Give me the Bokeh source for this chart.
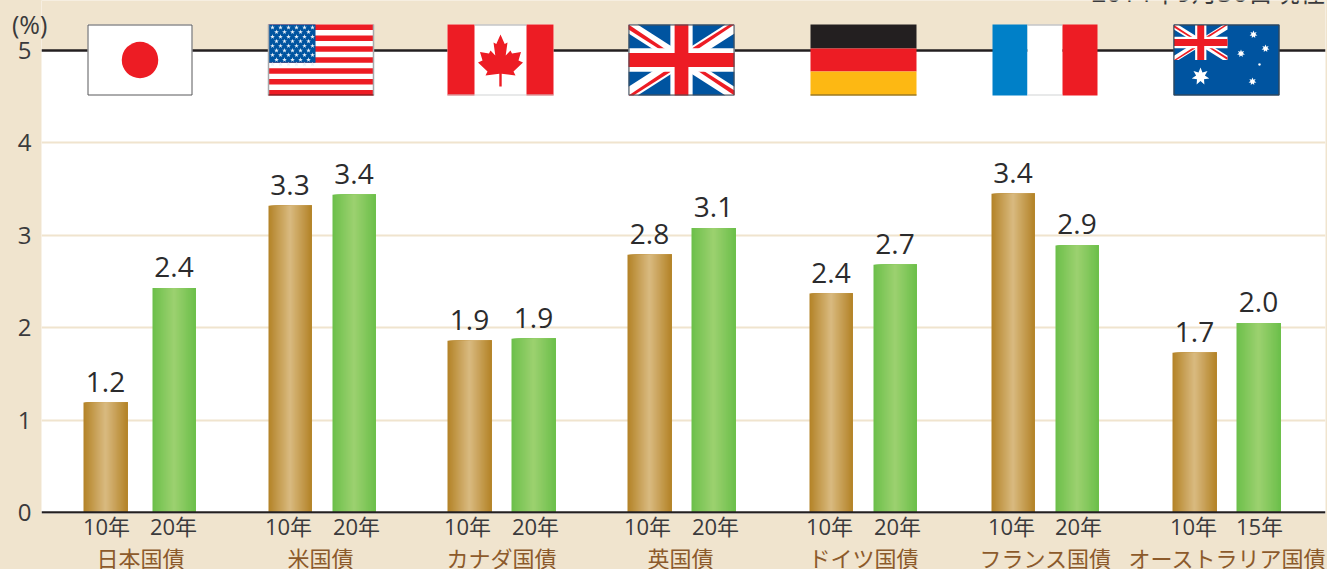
import math
from bokeh.plotting import figure
from bokeh.layouts import column
from bokeh.models import Range1d, FixedTicker, LinearAxis, Div
from bokeh.core.properties import value
from bokeh.embed import file_html
from bokeh.resources import INLINE

# ---- data -------------------------------------------------------------
countries = ["日本国債", "米国債", "カナダ国債", "英国債", "ドイツ国債", "フランス国債", "オーストラリア国債"]
maturities = ["10年", "20年", "10年", "20年", "10年", "20年", "10年", "20年", "10年", "20年", "10年", "20年", "10年", "15年"]
yields = [1.19, 2.43, 3.32, 3.44, 1.86, 1.88, 2.79, 3.08, 2.37, 2.68, 3.45, 2.89, 1.73, 2.05]
value_labels = ["1.2", "2.4", "3.3", "3.4", "1.9", "1.9", "2.8", "3.1", "2.4", "2.7", "3.4", "2.9", "1.7", "2.0"]
y_ticks = [0, 1, 2, 3, 4, 5]
note = "2014年9月30日現在"
unit = "(%)"

# ---- layout (pixels in the picture) ------------------------------------
W, H = 1327, 569
F_L, F_R, ZERO_PX, FIVE_PX = 41, 1325, 512, 50
PER = (ZERO_PX - FIVE_PX) / 5
bar_left = [83, 152, 268, 332, 447, 511, 627, 691, 809, 873, 991, 1055, 1172, 1236]
bar_w = [44, 43, 43, 43, 44, 44, 44, 44, 43, 43, 43, 43, 44, 44]
tick_x = [106, 173, 288, 356, 467, 535, 647, 715, 829, 897, 1011, 1078, 1193, 1259]
group_x = [140, 320, 501, 680, 863, 1045, 1227]
flag_x = [(87, 192), (268, 373), (447, 553), (628, 734), (810, 916), (992, 1097), (1173, 1279)]
FLAG_T, FLAG_B = 24, 95
LABEL_GAP = 21

BEIGE = "#f0e4ce"
INK = "#3a3a3c"
BROWN = "#8c5a2b"
RED = "#ed1c24"
BLUE = "#0054a0"
FONT = "Open Sans, Noto Sans CJK JP"
CJK = "Noto Sans CJK JP"


def fy(px):
    return (ZERO_PX - px) / PER


p = figure(frame_width=F_R - F_L, frame_height=513, output_backend="svg", toolbar_location=None,
           x_range=Range1d(F_L, F_R), y_range=Range1d(fy(513), fy(0)),
           min_border_left=F_L, min_border_right=W - F_R, min_border_top=0, min_border_bottom=H - 513,
           background_fill_color="white", border_fill_color=BEIGE, outline_line_color=None)
p.xaxis.visible = False
p.xgrid.visible = False

# beige band above 5
p.quad(left=F_L, right=F_R, bottom=5, top=fy(0), fill_color=BEIGE, line_color=None)

# y axis
p.yaxis.ticker = FixedTicker(ticks=y_ticks)
p.yaxis.axis_line_color = None
p.yaxis.major_tick_line_color = None
p.yaxis.minor_tick_line_color = None
p.yaxis.major_tick_in = 0
p.yaxis.major_tick_out = 0
p.yaxis.minor_tick_in = 0
p.yaxis.minor_tick_out = 0
p.yaxis.major_label_text_font = FONT
p.yaxis.major_label_text_font_size = "24px"
p.yaxis.major_label_text_color = INK
p.yaxis.major_label_standoff = 10
p.ygrid.ticker = FixedTicker(ticks=y_ticks[1:-1])
p.ygrid.grid_line_color = BEIGE
p.ygrid.grid_line_width = 2


# bars with a horizontal metallic gradient; each strip runs to the bar's right edge so no seams show
def mix(a, b, t):
    return "#%02x%02x%02x" % tuple(round(a[i] + (b[i] - a[i]) * t) for i in range(3))


GOLD = ((0xb3, 0x82, 0x27), (0xd9, 0xba, 0x80))
GREEN = ((0x6c, 0xbf, 0x4a), (0x9c, 0xd1, 0x70))
ls, rs, ts, cs = [], [], [], []
for i, v in enumerate(yields):
    pal = GOLD if i % 2 == 0 else GREEN
    w = bar_w[i]
    for k in range(w):
        t = 1 - abs((k + 0.5) / w - 0.5) * 2
        ls.append(bar_left[i] + k)
        rs.append(bar_left[i] + w)
        ts.append(v)
        cs.append(mix(pal[0], pal[1], t))
p.quad(left=ls, right=rs, bottom=0, top=ts, fill_color=cs, line_color=None)

# value labels
p.text(x=[bar_left[i] + bar_w[i] / 2 for i in range(len(yields))], y=[v + LABEL_GAP / PER for v in yields],
       text=value_labels, text_font=value(FONT), text_font_size="28px", text_color="#2b2b2d",
       text_align="center", text_baseline="middle")

# black rules at 0 and 5
p.segment(x0=F_L, x1=F_R, y0=[0, 5], y1=[0, 5], line_color="#231f20", line_width=2.4)


# ---- flags -------------------------------------------------------------
def rect(x0, x1, t, b, color):
    p.quad(left=x0, right=x1, top=fy(t), bottom=fy(b), fill_color=color, line_color=None)


def poly(pts, color):
    p.patch([a for a, _ in pts], [fy(b) for _, b in pts], fill_color=color, line_color=None)


def border(x0, x1, t, b, color, width=1):
    p.quad(left=x0, right=x1, top=fy(t), bottom=fy(b), fill_color=None, line_color=color, line_width=width)


def hline(x0, x1, py, color):
    p.segment(x0=x0, x1=x1, y0=fy(py), y1=fy(py), line_color=color, line_width=1)


def star7(cx, cy, r, color="white"):
    pts = []
    for k in range(14):
        rad = r if k % 2 == 0 else r * 0.5
        ang = math.pi * k / 7
        pts.append((cx + rad * math.sin(ang), cy - rad * math.cos(ang)))
    poly(pts, color)


def union_jack(x0, x1, t, b):
    cx, cy = (x0 + x1) / 2, (t + b) / 2
    w, h = x1 - x0, b - t
    dx, dy = w * 0.085, h * 0.125
    poly([(x0, t), (x0 + dx, t), (x1, b - dy), (x1, b), (x1 - dx, b), (x0, t + dy)], "white")
    poly([(x1, t), (x1, t + dy), (x0 + dx, b), (x0, b), (x0, b - dy), (x1 - dx, t)], "white")
    rx, ry = dx * 0.55, dy * 0.55
    poly([(x0, t), (cx, cy), (cx - rx, cy), (x0, t + ry)], RED)
    poly([(x1, t), (cx, cy), (cx, cy - ry), (x1 - rx, t)], RED)
    poly([(x1, b), (cx, cy), (cx + rx, cy), (x1, b - ry)], RED)
    poly([(x0, b), (cx, cy), (cx, cy + ry), (x0 + rx, b)], RED)
    a, c = w * 0.105, h * 0.165
    rect(cx - a, cx + a, t, b, "white")
    rect(x0, x1, cy - c, cy + c, "white")
    a, c = w * 0.065, h * 0.10
    rect(cx - a, cx + a, t, b, RED)
    rect(x0, x1, cy - c, cy + c, RED)


# Japan
x0, x1 = flag_x[0]
rect(x0, x1, FLAG_T, FLAG_B, "white")
p.scatter(x=[(x0 + x1) / 2], y=[fy(59.5)], size=36.5, marker="circle", fill_color=RED, line_color=None)
border(x0 + .5, x1 - .5, FLAG_T + .5, FLAG_B - .5, "#58595b")

# USA
x0, x1 = flag_x[1]
sh = (FLAG_B - FLAG_T) / 13
rect(x0, x1, FLAG_T, FLAG_B, "white")
for s in range(0, 13, 2):
    rect(x0, x1, FLAG_T + s * sh, FLAG_T + (s + 1) * sh, RED)
rect(x0, x0 + 47, FLAG_T, FLAG_T + 7 * sh, BLUE)
sx, sy = [], []
for r in range(9):
    for c in range(6 if r % 2 == 0 else 5):
        sx.append(x0 + 4 + c * 8 + (0 if r % 2 == 0 else 4))
        sy.append(fy(FLAG_T + 3 + r * 4.6))
p.scatter(x=sx, y=sy, size=5, marker="star", fill_color="#e8f0f8", line_color=None)
p.segment(x0=[x0, x1], x1=[x0, x1], y0=fy(FLAG_T), y1=fy(FLAG_B), line_color="#a7a9ac", line_width=1.5)
hline(x0, x1, FLAG_B - .5, "#5a1a1c")

# Canada
x0, x1 = flag_x[2]
cx = (x0 + x1) / 2
rect(x0, x1, FLAG_T, FLAG_B, "white")
rect(x0, x0 + 27, FLAG_T, FLAG_B, RED)
rect(x1 - 27, x1, FLAG_T, FLAG_B, RED)
half = [(0, 34), (4.2, 43.5), (7, 42), (5.2, 55), (10, 50), (11.5, 53), (20.5, 51.5), (18, 60), (22.5, 62),
        (13, 71), (15, 75), (1.2, 73.2), (1.2, 86)]
leaf = [(cx + d, y) for d, y in half] + [(cx - d, y) for d, y in reversed(half)]
poly(leaf, RED)
hline(x0, x1, FLAG_B - .5, "#d1d3d4")
hline(x0 + 27, x1 - 27, FLAG_T + .5, "#a7a9ac")

# UK
x0, x1 = flag_x[3]
rect(x0, x1, FLAG_T, FLAG_B, BLUE)
union_jack(x0, x1, FLAG_T, FLAG_B)
border(x0 + .5, x1 - .5, FLAG_T + .5, FLAG_B - .5, "#4d4d4f")

# Germany
x0, x1 = flag_x[4]
rect(x0, x1, FLAG_T, 48, "#231f20")
rect(x0, x1, 48, 71, RED)
rect(x0, x1, 71, FLAG_B, "#fdb813")
hline(x0, x1, FLAG_B - .5, "#6b5a2a")

# France
x0, x1 = flag_x[5]
rect(x0, x0 + 35, FLAG_T, FLAG_B, "#0080c8")
rect(x0 + 35, x1 - 35, FLAG_T, FLAG_B, "white")
rect(x1 - 35, x1, FLAG_T, FLAG_B, RED)
hline(x0 + 35, x1 - 35, FLAG_T + .5, "#a7a9ac")
hline(x0 + 35, x1 - 35, FLAG_B - .5, "#d1d3d4")

# Australia
x0, x1 = flag_x[6]
rect(x0, x1, FLAG_T, FLAG_B, BLUE)
union_jack(x0 + .5, x0 + 54, FLAG_T + .5, 59.5)
for sxp, syp, rp in [(1253, 34, 4), (1265, 48, 4), (1240.5, 53, 4), (1259, 64, 1.8), (1252, 81, 4), (1200, 76, 9)]:
    star7(sxp, syp, rp)
border(x0 + .5, x1 - .5, FLAG_T + .5, FLAG_B - .5, "#414042")

# ---- free texts --------------------------------------------------------
p.text(x=[1325], y=[fy(-8.5)], text=[note], text_font=value(FONT), text_font_size="26px", text_color=INK,
       text_align="right", text_baseline="middle")

# the unit sits left of the frame, where glyphs are clipped: a small text block laid over the page
q = Div(text=unit, width=42, height=28, margin=(-565, 0, 0, 12),
        styles={"z-index": "10", "font-family": "Open Sans", "font-size": "25px", "color": INK,
                "line-height": "28px"})

# ---- x axes ------------------------------------------------------------
common = dict(axis_line_color=None, major_tick_line_color=None, minor_tick_line_color=None,
              major_tick_in=0, major_tick_out=0, minor_tick_in=0, minor_tick_out=0)
ax1 = LinearAxis(ticker=FixedTicker(ticks=tick_x),
                 major_label_overrides={x: m for x, m in zip(tick_x, maturities)},
                 major_label_text_font=FONT, major_label_text_font_size="22px", major_label_text_color=INK,
                 major_label_standoff=-3, **common)
ax2 = LinearAxis(ticker=FixedTicker(ticks=group_x),
                 major_label_overrides={x: c for x, c in zip(group_x, countries)},
                 major_label_text_font=CJK, major_label_text_font_size="22px", major_label_text_color=BROWN,
                 major_label_standoff=-3, **common)
p.add_layout(ax1, "below")
p.add_layout(ax2, "below")

html = file_html(column(p, q, spacing=0), INLINE)
html = html.replace("<head>", "<head><style>html,body{margin:0!important;padding:0;background:%s;overflow:hidden}</style>" % BEIGE, 1)
open("out.html", "w").write(html)
